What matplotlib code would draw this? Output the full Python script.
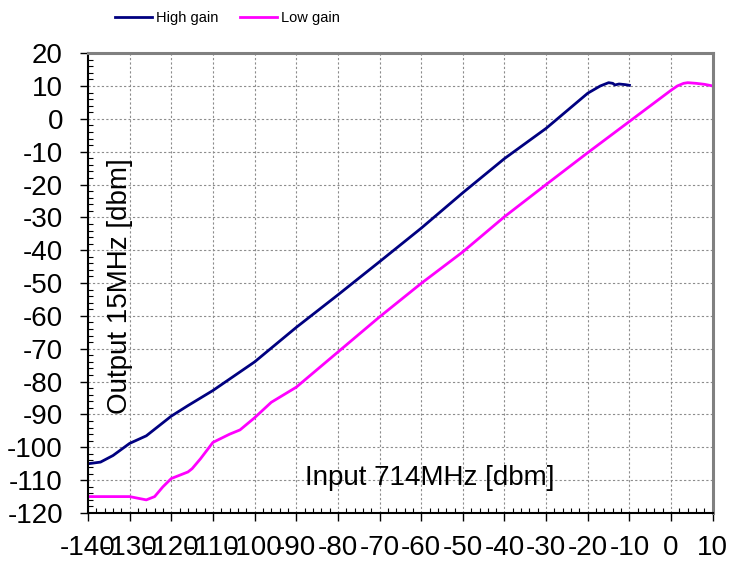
import numpy as np
import matplotlib.pyplot as plt
from matplotlib.ticker import MultipleLocator

plt.rcParams['font.family'] = ['Liberation Sans', 'DejaVu Sans']
plt.rcParams['axes.unicode_minus'] = False

# input power [dbm] and output power [dbm]
high_x = [-140, -137, -134, -130, -126, -123, -120, -116, -113, -110, -100, -90, -80,
          -70, -60, -50, -40, -30, -20, -17, -15, -14, -13.5, -12.5, -11, -10]
high_y = [-105.0, -104.5, -102.5, -98.8, -96.5, -93.5, -90.5, -87.3, -85.0, -82.7, -74.0,
          -63.5, -53.6, -43.5, -33.3, -22.5, -12.1, -2.9, 7.8, 10.0, 11.0, 10.8, 10.3,
          10.6, 10.4, 10.2]

low_x = [-140, -135, -130, -128, -126, -124, -122, -120, -118, -116, -115, -113, -110,
         -106, -103.5, -100, -96, -90, -80, -70, -60, -50, -40, -30, -20, -10, 0, 1.5,
         3, 4, 6, 8, 10]
low_y = [-115.0, -115.0, -115.0, -115.5, -116.0, -115.0, -112.0, -109.5, -108.5, -107.5,
         -106.5, -103.5, -98.5, -96.0, -94.7, -91.0, -86.3, -81.7, -71.0, -60.3, -50.1,
         -40.5, -29.8, -20.0, -10.3, -0.8, 8.7, 10.0, 10.8, 11.0, 10.8, 10.5, 10.0]

fig = plt.figure(figsize=(7.29, 5.65), dpi=100)
ax = fig.add_axes([0.1207, 0.092, 0.857, 0.814])

ax.plot(high_x, high_y, color="#000080", lw=2.0, label="High gain")
ax.plot(low_x, low_y, color="#FF00FF", lw=2.0, label="Low gain")

ax.set_xlim(-140, 10)
ax.set_ylim(-120, 20)
ax.xaxis.set_major_locator(MultipleLocator(10))
ax.yaxis.set_major_locator(MultipleLocator(10))
ax.xaxis.set_minor_locator(MultipleLocator(2))
ax.yaxis.set_minor_locator(MultipleLocator(2))
ax.grid(True, which="major", color="#8c8c8c", lw=0.8, ls=(0, (2, 2)))

ax.tick_params(which="major", direction="out", length=6, width=1, labelsize=20)
ax.tick_params(axis="y", which="major", pad=12)
ax.tick_params(axis="x", which="major", pad=10)
ax.tick_params(which="minor", direction="in", length=3.5, width=0.8)

for s in ["left", "bottom"]:
    ax.spines[s].set_color("black")
    ax.spines[s].set_linewidth(1.5)
for s in ["top", "right"]:
    ax.spines[s].set_color("#808080")
    ax.spines[s].set_linewidth(2.2)

ax.text(-132.3, -51, "Output 15MHz [dbm]", rotation=90, fontsize=20,
        ha="center", va="center")
ax.text(-58, -109.3, "Input 714MHz [dbm]", fontsize=20, ha="center", va="center")

fig.legend(loc="upper center", bbox_to_anchor=(0.312, 1.004), ncol=2, frameon=False,
           fontsize=10.5, handlelength=2.5, handletextpad=0.3, columnspacing=1.5)

fig.savefig("out.png", dpi=100)
